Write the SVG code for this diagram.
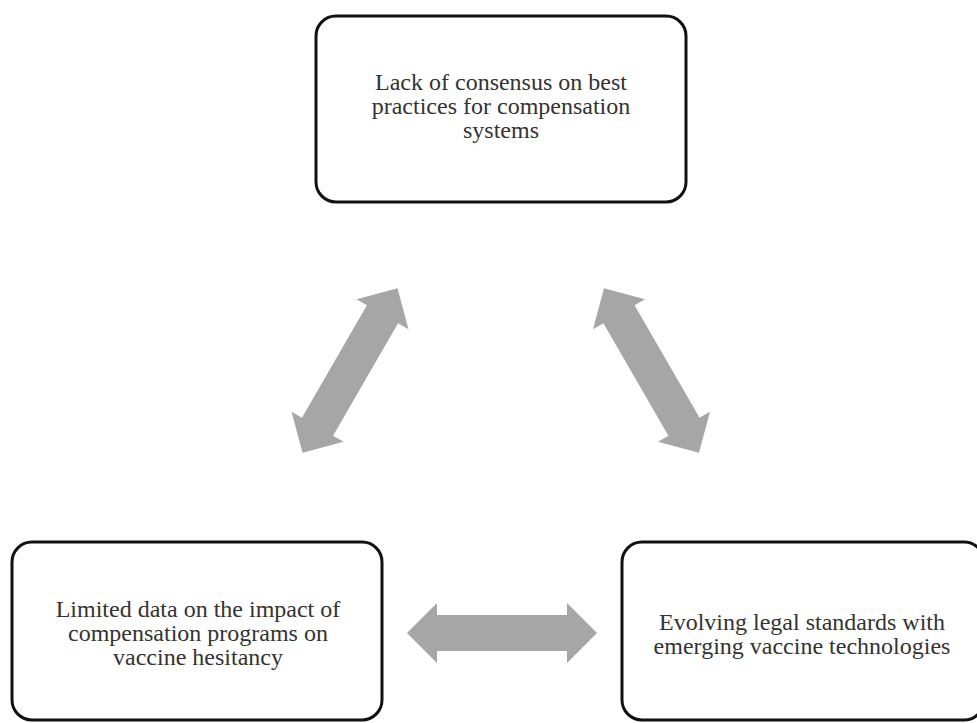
<svg xmlns="http://www.w3.org/2000/svg" width="977" height="723" viewBox="0 0 977 723">
<defs>
<style>
.box{fill:#fff;stroke:#111;stroke-width:3}
.lbl{font-family:"Liberation Serif","Times New Roman",serif;font-size:24px;fill:#333;text-anchor:middle}
.arr{fill:#a6a6a6}
</style>
<path id="dbl" d="M-95,0 L-65,-30 L-65,-18 L65,-18 L65,-30 L95,0 L65,30 L65,18 L-65,18 L-65,30 Z"/>
</defs>
<rect width="977" height="723" fill="#fff"/>
<g id="connectors">
<use href="#dbl" class="arr" transform="translate(350,370.5) rotate(-60)"/>
<use href="#dbl" class="arr" transform="translate(651.5,370.5) rotate(60)"/>
<use href="#dbl" class="arr" transform="translate(502,633)"/>
</g>
<g id="node-top">
<rect class="box" x="316" y="16" width="370" height="186" rx="20"/>
<text class="lbl" x="501" y="90">Lack of consensus on best</text>
<text class="lbl" x="501" y="114">practices for compensation</text>
<text class="lbl" x="501" y="138">systems</text>
</g>
<g id="node-left">
<rect class="box" x="12" y="542" width="370" height="178" rx="20"/>
<text class="lbl" x="198" y="617">Limited data on the impact of</text>
<text class="lbl" x="198" y="641">compensation programs on</text>
<text class="lbl" x="198" y="665">vaccine hesitancy</text>
</g>
<g id="node-right">
<rect class="box" x="622" y="542" width="362" height="178" rx="20"/>
<text class="lbl" x="802" y="630">Evolving legal standards with</text>
<text class="lbl" x="802" y="654">emerging vaccine technologies</text>
</g>
</svg>
